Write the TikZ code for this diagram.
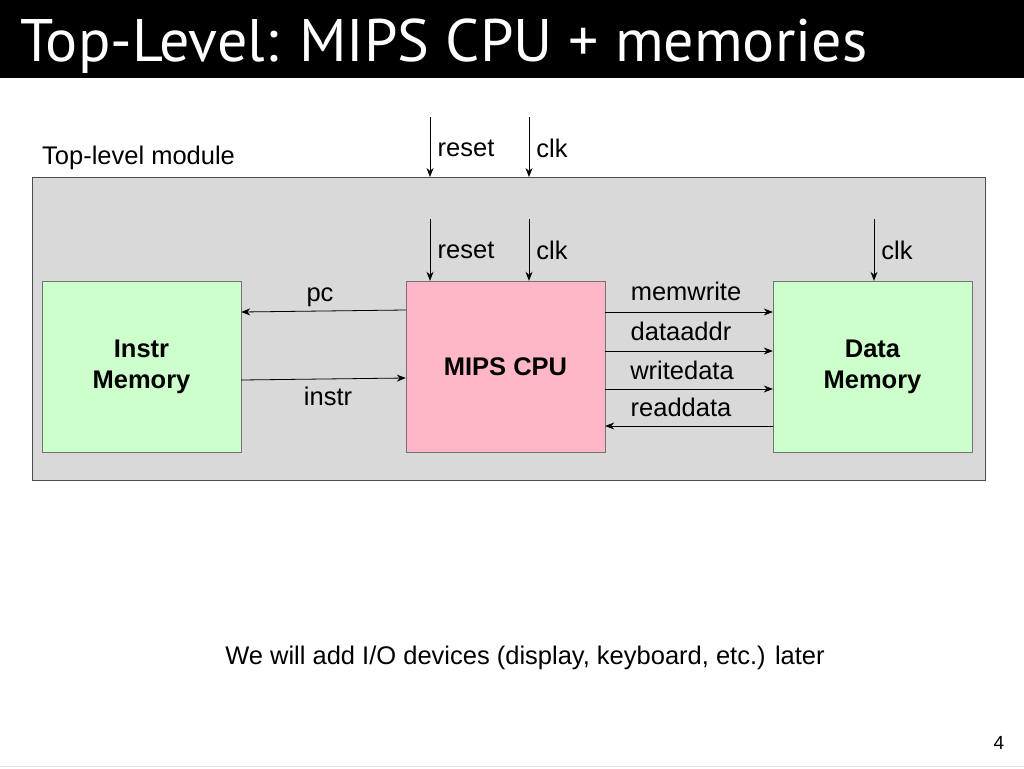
\documentclass[tikz,border=0pt]{standalone}
\usepackage{fontspec}
\usetikzlibrary{arrows.meta}
\setmainfont{Liberation Sans}
\newfontfamily\titlefont{PT Sans}
\begin{document}
\begin{tikzpicture}[x=1pt,y=-1pt,
  lbl/.style={font=\fontsize{25.5}{30}\selectfont},
  blk/.style={draw=black!55,font=\fontsize{25.5}{31}\selectfont\bfseries,align=center},
  sig/.style={-{Stealth[length=9pt,width=7pt]},black,line width=0.8pt}]
\useasboundingbox (0,0) rectangle (1024,768);
\fill[black] (0,0) rectangle (1024,78);
\node[anchor=base west,text=white,font=\fontsize{60}{66}\selectfont\titlefont,inner sep=0pt] (title) at (20,62) {Top-Level: MIPS CPU + memories};
\node[lbl,anchor=west,inner sep=0pt] (tlm) at (42,158) {Top-level module};
\draw[fill=black!15,draw=black!70] (32,177) rectangle (985,480);
\node[blk,fill=green!20,minimum width=199pt,minimum height=171pt] (im) at (141.5,366.5) {Instr\\Memory};
\node[blk,fill={rgb,255:red,255;green,182;blue,198},minimum width=199pt,minimum height=171pt] (cpu) at (505.5,366.5) {MIPS CPU};
\node[blk,fill=green!20,minimum width=199pt,minimum height=171pt] (dm) at (872.5,366.5) {Data\\Memory};
\coordinate (r0) at (430,117); \coordinate (r1) at (430,177);
\coordinate (c0) at (529,117); \coordinate (c1) at (529,177);
\coordinate (r2) at (430,219); \coordinate (c2) at (529,219); \coordinate (d2) at (874,219);
\draw[sig] (r0)--(r1); \draw[sig] (c0)--(c1);
\draw[sig] (r2)--(r2|-cpu.north); \draw[sig] (c2)--(c2|-cpu.north); \draw[sig] (d2)--(d2|-dm.north);
\node[lbl] (tr) at (466,148) {reset}; \node[lbl] (tc) at (552,148) {clk};
\node[lbl] (ir) at (466,250) {reset}; \node[lbl] (ic) at (552,250) {clk}; \node[lbl] (dc) at (897,250) {clk};
\draw[sig] (cpu.west|-0,310)--(im.east|-0,312); \node[lbl] (pc) at (320,297) {pc};
\draw[sig] (im.east|-0,380)--(cpu.west|-0,378); \node[lbl] (in) at (328,396) {instr};
\draw[sig] (cpu.east|-0,312)--(dm.west|-0,312); \node[lbl] (mw) at (686,291) {memwrite};
\draw[sig] (cpu.east|-0,351)--(dm.west|-0,351); \node[lbl] (da) at (681,331) {dataaddr};
\draw[sig] (cpu.east|-0,389)--(dm.west|-0,389); \node[lbl] (wd) at (682,370) {writedata};
\draw[sig] (dm.west|-0,426)--(cpu.east|-0,426); \node[lbl] (rd) at (681,407) {readdata};
\node[lbl] (note) at (525,658) {We will add I/O devices (display, keyboard, etc.) later};
\node[font=\fontsize{19}{22}\selectfont] (pg) at (999,743) {4};
\draw[black!10] (0,766)--(1024,766);
\end{tikzpicture}
\end{document}
